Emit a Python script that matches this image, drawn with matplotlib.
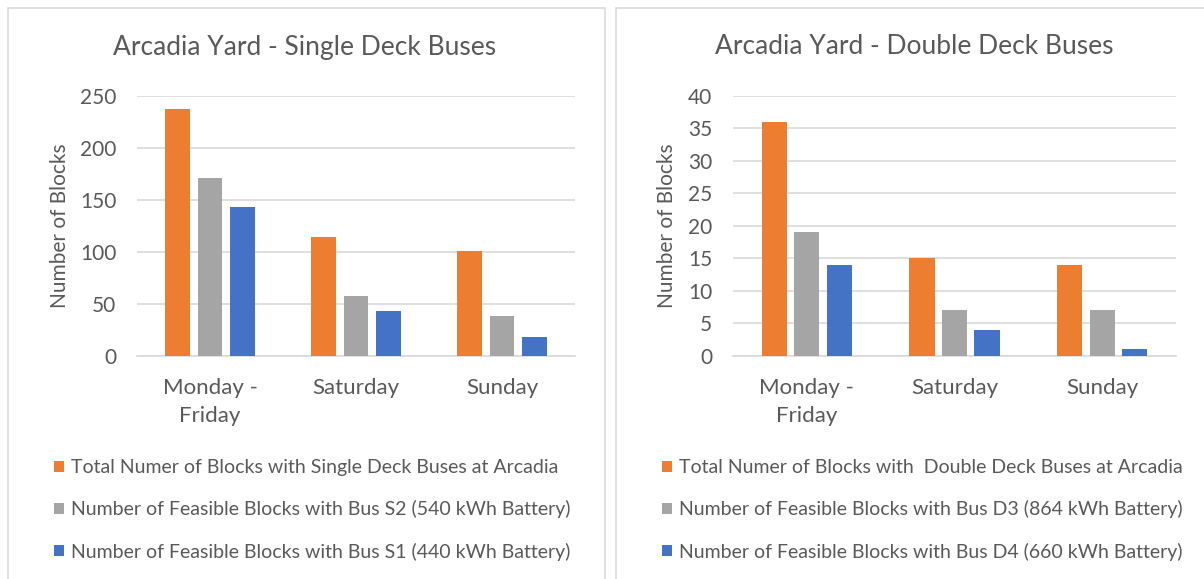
import matplotlib
matplotlib.use("Agg")
import matplotlib.pyplot as plt
from matplotlib.patches import Rectangle
import numpy as np

plt.rcParams['font.family'] = ['Lato', 'DejaVu Sans']

categories = ["Monday -\nFriday", "Saturday", "Sunday"]

single_total = [237, 114, 101]
single_s2 = [171, 57, 38]
single_s1 = [143, 43, 18]
single_labels = ["Total Numer of Blocks with Single Deck Buses at Arcadia",
                 "Number of Feasible Blocks with Bus S2 (540 kWh Battery)",
                 "Number of Feasible Blocks with Bus S1 (440 kWh Battery)"]

double_total = [36, 15, 14]
double_d3 = [19, 7, 7]
double_d4 = [14, 4, 1]
double_labels = ["Total Numer of Blocks with  Double Deck Buses at Arcadia",
                 "Number of Feasible Blocks with Bus D3 (864 kWh Battery)",
                 "Number of Feasible Blocks with Bus D4 (660 kWh Battery)"]

colors = ["#ED7D31", "#A5A5A5", "#4472C4"]
text_c = "#595959"
grid_c = "#D9D9D9"

W, H = 1204, 579
fig = plt.figure(figsize=(W / 100, H / 100), dpi=100)

# panel borders
for (x0, x1) in [(8, 605), (616, 1210)]:
    fig.patches.append(Rectangle((x0 / W, -0.05), (x1 - x0) / W, 1.05 - 8 / H,
                                 transform=fig.transFigure, fill=False,
                                 edgecolor=grid_c, lw=1.2))


def panel(left_px, right_px, title, title_x, series, labels, ymax, ystep, legend_x, ylab_x):
    ax = fig.add_axes([left_px / W, 1 - 355.5 / H, (right_px - left_px) / W, (355.5 - 96) / H])
    x = np.arange(len(categories))
    bw = 0.17
    off = 0.22
    bars = []
    for i, (vals, c) in enumerate(zip(series, colors)):
        b = ax.bar(x + (i - 1) * off, vals, width=bw, color=c, zorder=3)
        bars.append(b)
    ax.set_xlim(-0.5, 2.5)
    ax.set_ylim(0, ymax)
    ax.set_yticks(np.arange(0, ymax + 0.1, ystep))
    ax.yaxis.grid(True, color=grid_c, lw=1.2, zorder=0)
    ax.set_axisbelow(True)
    for s in ["top", "right", "left"]:
        ax.spines[s].set_visible(False)
    ax.spines["bottom"].set_color(grid_c)
    ax.spines["bottom"].set_linewidth(1.2)
    ax.tick_params(axis='y', length=0, labelsize=15, colors=text_c, pad=15)
    ax.set_xticks(x)
    ax.set_xticklabels(categories, linespacing=1.5)
    ax.tick_params(axis='x', length=0, labelsize=16, colors=text_c, pad=16)
    ax.set_ylabel("Number of Blocks", fontsize=15, color=text_c)
    ax.yaxis.set_label_coords((ylab_x - left_px) / (right_px - left_px), 0.5)
    fig.text(title_x / W, 1 - 47 / H, title, ha='center', va='center',
             fontsize=19, color=text_c)
    leg = fig.legend([b[0] for b in bars], labels, loc='upper left',
                     bbox_to_anchor=(legend_x / W, 1 - 459 / H), frameon=False,
                     fontsize=14, handlelength=0.5, handleheight=0.5,
                     handletextpad=0.35, labelspacing=1.25, borderpad=0, borderaxespad=0)
    for t in leg.get_texts():
        t.set_color(text_c)
    return ax


panel(137, 575, "Arcadia Yard - Single Deck Buses", 305,
      [single_total, single_s2, single_s1], single_labels, 250, 50, 54, 70)
panel(733, 1176, "Arcadia Yard - Double Deck Buses", 914,
      [double_total, double_d3, double_d4], double_labels, 40, 5, 662, 677)

fig.savefig("out.png", dpi=100, facecolor="white")
